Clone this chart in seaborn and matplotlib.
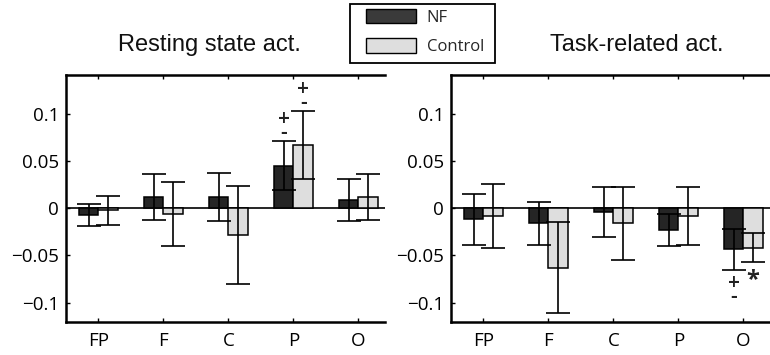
import numpy as np
import pandas as pd
import matplotlib
matplotlib.use("Agg")
import matplotlib.pyplot as plt
import seaborn as sns
from matplotlib.patches import Patch, Rectangle

regions = ["FP", "F", "C", "P", "O"]
groups = ["NF", "Control"]

rest_nf = [-0.007, 0.012, 0.012, 0.045, 0.009]
rest_ctrl = [-0.002, -0.006, -0.028, 0.067, 0.012]
rest_nf_err = [0.0115, 0.024, 0.025, 0.026, 0.022]
rest_ctrl_err = [0.0155, 0.034, 0.052, 0.036, 0.0245]

task_nf = [-0.0115, -0.016, -0.004, -0.023, -0.0435]
task_ctrl = [-0.008, -0.063, -0.016, -0.008, -0.042]
task_nf_err = [0.027, 0.023, 0.027, 0.017, 0.022]
task_ctrl_err = [0.034, 0.048, 0.039, 0.031, 0.0155]

titles = ["Resting state act.", "Task-related act."]
yticks = [-0.1, -0.05, 0, 0.05, 0.1]
ytick_labels = ["\u22120.1", "\u22120.05", "0", "0.05", "0.1"]

# significance marks: (region, group, symbol, side)
rest_marks = [("P", "NF", "pm", "above"), ("P", "Control", "pm", "above")]
task_marks = [("O", "NF", "pm", "below"), ("O", "Control", "*", "below")]

sns.set_theme(style="white")
plt.rcParams["font.family"] = ["Open Sans", "DejaVu Sans"]

dark = "#252525"
light = "#dedede"

fig = plt.figure(figsize=(7.7, 3.55), dpi=100)
ax_pos = [[66 / 770, 33 / 355, 319 / 770, 247 / 355],
          [451 / 770, 33 / 355, 319 / 770, 247 / 355]]
title_x = [209 / 770, 637 / 770]

datasets = [
    (rest_nf, rest_ctrl, rest_nf_err, rest_ctrl_err, rest_marks),
    (task_nf, task_ctrl, task_nf_err, task_ctrl_err, task_marks),
]

for k, (nf, ctrl, nf_err, ctrl_err, marks) in enumerate(datasets):
    ax = fig.add_axes(ax_pos[k])
    df = pd.DataFrame({
        "region": regions * 2,
        "group": ["NF"] * len(regions) + ["Control"] * len(regions),
        "value": list(nf) + list(ctrl),
        "err": list(nf_err) + list(ctrl_err),
    })
    ax.axhline(0, color="black", lw=1.2, zorder=0.5)
    sns.barplot(data=df, x="region", y="value", hue="group", order=regions,
                hue_order=groups, palette=[dark, light], width=0.6,
                edgecolor="black", linewidth=1.1, errorbar=None,
                saturation=1, legend=False, ax=ax, zorder=2)
    centers = {}
    for g, cont in zip(groups, ax.containers):
        sub = df[df.group == g].set_index("region").loc[regions]
        xs = [p.get_x() + p.get_width() / 2 for p in cont.patches]
        ax.errorbar(xs, sub["value"].values, yerr=sub["err"].values,
                    fmt="none", ecolor="black", elinewidth=1.2,
                    capsize=8.5, capthick=1.2, zorder=3)
        for r, x, v, e in zip(regions, xs, sub["value"].values, sub["err"].values):
            centers[(r, g)] = (x, v, e)
    for r, g, sym, side in marks:
        x, v, e = centers[(r, g)]
        if side == "above":
            base = v + e
            if sym == "pm":
                ax.text(x, base + 0.0155, "+\n-", ha="center", va="center",
                        fontsize=15, linespacing=0.55, color="#222222",
                        fontweight="semibold")
        else:
            base = v - e
            if sym == "pm":
                ax.text(x, base - 0.0215, "+\n-", ha="center", va="center",
                        fontsize=15, linespacing=0.55, color="#222222",
                        fontweight="semibold")
            else:
                ax.text(x, base - 0.019, "*", ha="center", va="center",
                        fontsize=17, fontweight="bold", color="#222222")

    ax.set_xlim(-0.5, 4.41)
    ax.set_ylim(-0.1206, 0.1413)
    ax.set_yticks(yticks)
    ax.set_yticklabels(ytick_labels)
    ax.set_xlabel("")
    ax.set_ylabel("")
    ax.tick_params(axis="both", direction="in", length=3, width=1,
                   colors="black", labelsize=13.5, pad=5)
    ax.tick_params(axis="x", top=True, bottom=True, labelsize=13.5, pad=7)
    ax.tick_params(axis="y", left=True, right=False)
    for s in ["top", "left", "bottom"]:
        ax.spines[s].set_visible(True)
        ax.spines[s].set_color("black")
        ax.spines[s].set_linewidth(1.8)
    ax.spines["right"].set_visible(False)
    ax.set_facecolor("white")
    fig.text(title_x[k], 1 - 51 / 355, titles[k], ha="center", va="baseline",
             fontsize=17, family=["Liberation Sans", "DejaVu Sans"], color="#111111")

# legend box
fig.patches.append(Rectangle((350 / 770, 1 - 63 / 355), 145 / 770, 59 / 355,
                             transform=fig.transFigure, fill=False,
                             edgecolor="black", linewidth=1.3, zorder=5))
handles = [Patch(facecolor="#3a3a3a", edgecolor="black", linewidth=1.0),
           Patch(facecolor=light, edgecolor="black", linewidth=1.0)]
leg = fig.legend(handles, groups, loc="upper left",
                 bbox_to_anchor=(366 / 770, 1 - 9 / 355), frameon=False,
                 fontsize=12, handlelength=3.0, handleheight=0.95,
                 borderpad=0, labelspacing=0.75, handletextpad=0.65,
                 borderaxespad=0)

fig.savefig("out.png", dpi=100, facecolor="white")
